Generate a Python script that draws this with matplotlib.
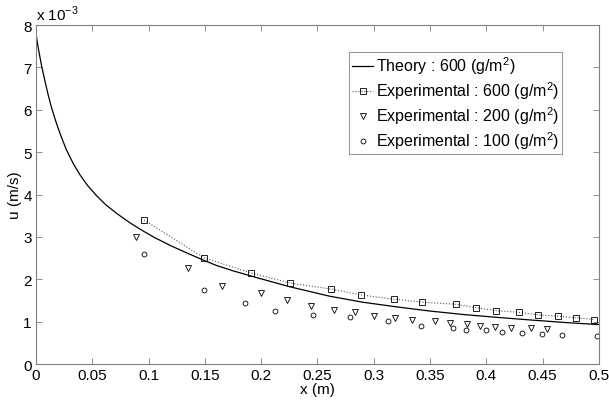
import numpy as np
import matplotlib
matplotlib.use("Agg")
from matplotlib import pyplot as plt

plt.rcParams['font.family'] = ['Liberation Sans', 'DejaVu Sans']
plt.rcParams['mathtext.fontset'] = 'custom'
plt.rcParams['mathtext.rm'] = 'Liberation Sans'

# theory curve (u in 1e-3 m/s)
x_theory = [0, 0.002, 0.005, 0.008, 0.011, 0.014, 0.018, 0.022, 0.027, 0.033,
            0.039, 0.046, 0.054, 0.062, 0.072, 0.082, 0.092, 0.105, 0.12, 0.135,
            0.149, 0.16, 0.175, 0.196, 0.226, 0.261, 0.29, 0.32, 0.35, 0.379,
            0.41, 0.439, 0.47, 0.5]
u_theory = [7.8, 7.47, 7.04, 6.68, 6.34, 6.04, 5.70, 5.40, 5.06, 4.74,
            4.47, 4.21, 3.97, 3.76, 3.55, 3.36, 3.19, 2.99, 2.79, 2.61,
            2.45, 2.33, 2.20, 2.04, 1.82, 1.60, 1.46, 1.35, 1.25, 1.17,
            1.10, 1.04, 0.98, 0.93]

x_600 = [0.096, 0.149, 0.191, 0.226, 0.262, 0.289, 0.318, 0.343, 0.373, 0.391,
         0.409, 0.429, 0.446, 0.464, 0.480, 0.496]
u_600 = [3.40, 2.51, 2.15, 1.91, 1.77, 1.63, 1.53, 1.46, 1.41, 1.33,
         1.26, 1.22, 1.16, 1.13, 1.09, 1.05]

x_200 = [0.089, 0.135, 0.165, 0.200, 0.223, 0.244, 0.265, 0.283, 0.300, 0.319,
         0.334, 0.354, 0.368, 0.383, 0.394, 0.408, 0.422, 0.440, 0.454]
u_200 = [3.00, 2.26, 1.85, 1.68, 1.50, 1.38, 1.27, 1.22, 1.14, 1.08,
         1.03, 1.01, 0.97, 0.94, 0.90, 0.87, 0.85, 0.84, 0.82]

x_100 = [0.096, 0.149, 0.186, 0.212, 0.246, 0.279, 0.313, 0.342, 0.370, 0.382,
         0.400, 0.414, 0.432, 0.449, 0.467, 0.498]
u_100 = [2.59, 1.75, 1.45, 1.24, 1.16, 1.10, 1.01, 0.90, 0.86, 0.80,
         0.80, 0.76, 0.73, 0.71, 0.68, 0.66]

fig = plt.figure(figsize=(6.09, 4.02), dpi=100)
ax = fig.add_axes([0.059, 0.092, 0.9245, 0.843])

ax.plot(x_theory, u_theory, color='black', lw=0.9, label='Theory : 600 (g/m$^2$)')
ax.plot(x_600, u_600, linestyle=':', color='#555555', lw=0.8, marker='s', ms=4,
        mfc='none', mec='black', mew=0.6, label='Experimental : 600 (g/m$^2$)')
ax.plot(x_200, u_200, linestyle='none', marker='v', ms=4, mfc='none', mec='black',
        mew=0.6, label='Experimental : 200 (g/m$^2$)')
ax.plot(x_100, u_100, linestyle='none', marker='o', ms=3.5, mfc='none', mec='black',
        mew=0.6, label='Experimental : 100 (g/m$^2$)')

ax.set_xlim(0, 0.5)
ax.set_ylim(0, 8)
ax.set_xticks(np.arange(0, 0.51, 0.05))
ax.set_xticklabels(['0', '0.05', '0.1', '0.15', '0.2', '0.25', '0.3', '0.35', '0.4', '0.45', '0.5'])
ax.set_yticks(range(9))
ax.tick_params(direction='in', top=True, right=True, labelsize=11, length=4,
               color='#808080', width=0.6, pad=3)
for s in ax.spines.values():
    s.set_color('#808080')
    s.set_linewidth(0.8)

ax.set_xlabel('x (m)', fontsize=11, labelpad=0)
ax.set_ylabel('u (m/s)', fontsize=11, labelpad=1)
ax.text(0.0, 1.005, r'x 10$^{-3}$', transform=ax.transAxes, fontsize=11,
        ha='left', va='bottom')

leg = ax.legend(loc='upper right', bbox_to_anchor=(0.934, 0.922), fontsize=11.5,
                frameon=True, fancybox=False, handlelength=1.3, handletextpad=0.15,
                borderpad=0.2, labelspacing=0.2, borderaxespad=0)
leg.get_frame().set_edgecolor('#808080')
leg.get_frame().set_linewidth(0.8)

fig.savefig('out.png', dpi=100)
